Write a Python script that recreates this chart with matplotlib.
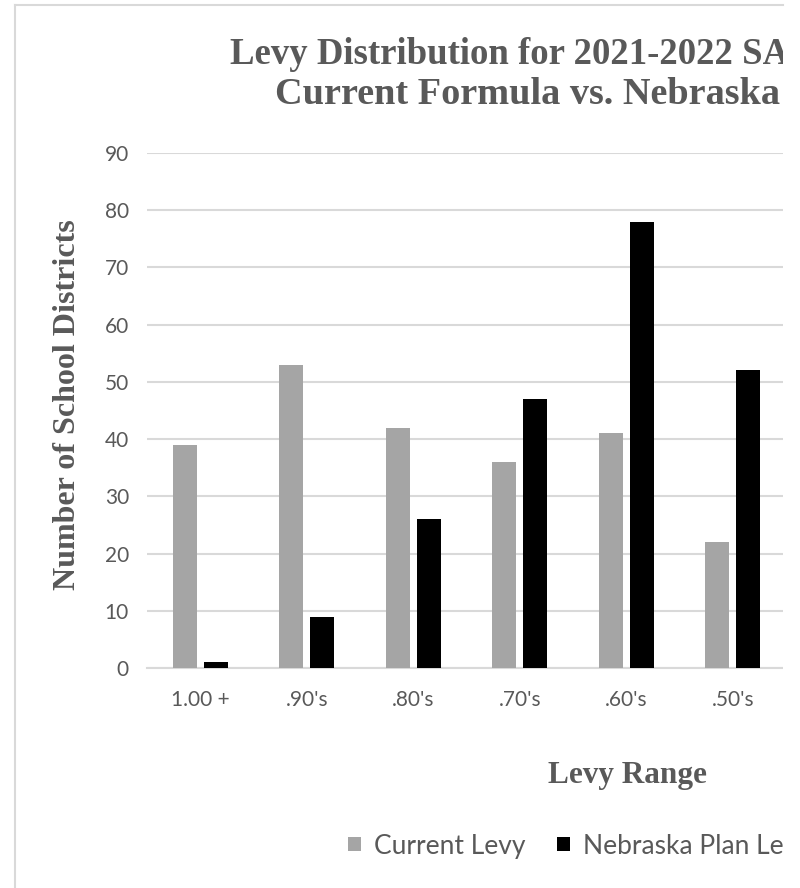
import matplotlib
matplotlib.use("Agg")
import matplotlib.pyplot as plt
from matplotlib.patches import Rectangle
from matplotlib.lines import Line2D
import numpy as np

# Levy ranges and district counts
ranges = ["1.00 +", ".90's", ".80's", ".70's", ".60's", ".50's"]
current_levy = [39, 53, 42, 36, 41, 22]
nebraska_levy = [1, 9, 26, 47, 78, 52]

GRAY = "#a5a5a5"
TEXT = "#595959"
GRID = "#d9d9d9"
SERIF = "Liberation Serif"
SANS = "Lato"

W, H = 800, 888
fig = plt.figure(figsize=(W / 100, H / 100), dpi=100)
fig.patch.set_facecolor("white")

ax = fig.add_axes([147 / W, (H - 668) / H, 636 / W, 515 / H])
x = np.arange(len(ranges))
bw = 0.225
ax.bar(x - 0.145, current_levy, bw, color=GRAY, zorder=3, label="Current Levy")
ax.bar(x + 0.145, nebraska_levy, bw, color="black", zorder=3, label="Nebraska Plan Levy")

ax.set_xlim(-0.5, 5.47)
ax.set_ylim(0, 90)
ax.set_yticks(range(0, 91, 10))
ax.set_xticks(x)
ax.set_xticklabels(ranges)
ax.grid(axis="y", color=GRID, linewidth=1.5, zorder=0)
for side in ["top", "right", "left"]:
    ax.spines[side].set_visible(False)
ax.spines["bottom"].set_color(GRID)
ax.spines["bottom"].set_linewidth(1.5)
ax.tick_params(length=0, labelsize=15, labelcolor=TEXT)
ax.tick_params(axis="x", pad=16)
ax.tick_params(axis="y", pad=13)
for lab in ax.get_xticklabels() + ax.get_yticklabels():
    lab.set_fontfamily(SANS)

# titles and axis labels (chart is cropped on the right, as in the source)
fig.text(230 / W, 1 - 54 / H, "Levy Distribution for 2021-2022 SA", ha="left", va="center",
         fontsize=26.5, fontweight="bold", family=SERIF, color=TEXT)
fig.text(275 / W, 1 - 94 / H, "Current Formula vs. Nebraska", ha="left", va="center",
         fontsize=27.5, fontweight="bold", family=SERIF, color=TEXT)
fig.text(68 / W, 1 - 405 / H, "Number of School Districts", ha="center", va="center",
         rotation=90, fontsize=23, fontweight="bold", family=SERIF, color=TEXT)
fig.text(627 / W, 1 - 776 / H, "Levy Range", ha="center", va="center",
         fontsize=22.5, fontweight="bold", family=SERIF, color=TEXT)

# legend
fig.legend(loc="center left", bbox_to_anchor=(348 / W, 1 - 846 / H), ncol=2, frameon=False,
           prop={"family": SANS, "size": 19}, labelcolor=TEXT, handlelength=0.48,
           handleheight=0.48, handletextpad=0.5, columnspacing=1.2, borderaxespad=0,
           borderpad=0)

# chart frame, cropped on the right
fig.patches.append(Rectangle((783 / W, 0), 17 / W, 1, transform=fig.transFigure,
                             facecolor="white", edgecolor="none", zorder=10))
fig.lines.append(Line2D([15 / W, 15 / W], [0, 1 - 5 / H], transform=fig.transFigure,
                        color=GRID, linewidth=1.5, zorder=11))
fig.lines.append(Line2D([15 / W, 783 / W], [1 - 5 / H, 1 - 5 / H], transform=fig.transFigure,
                        color=GRID, linewidth=1.5, zorder=11))

fig.savefig("out.png", dpi=100, facecolor="white")
